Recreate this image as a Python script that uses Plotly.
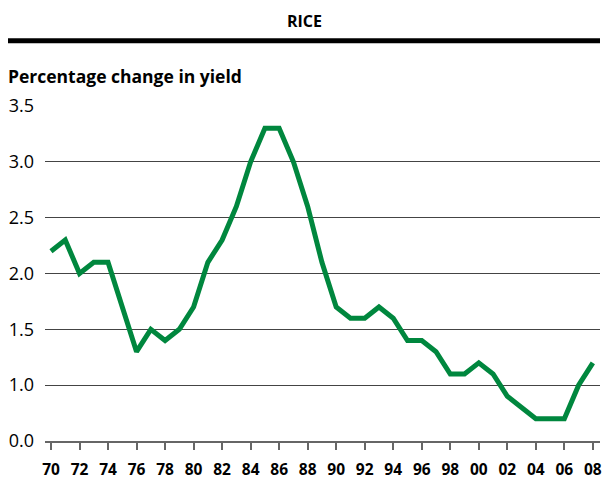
import plotly.graph_objects as go

years = list(range(1970, 2009))
yield_change = [2.2, 2.3, 2.0, 2.1, 2.1, 1.7, 1.3, 1.5, 1.4, 1.5,
                1.7, 2.1, 2.3, 2.6, 3.0, 3.3, 3.3, 3.0, 2.6, 2.1,
                1.7, 1.6, 1.6, 1.7, 1.6, 1.4, 1.4, 1.3, 1.1, 1.1,
                1.2, 1.1, 0.9, 0.8, 0.7, 0.7, 0.7, 1.0, 1.2]
x_tick_vals = list(range(1970, 2009, 2))
x_tick_text = ["70", "72", "74", "76", "78", "80", "82", "84", "86", "88",
               "90", "92", "94", "96", "98", "00", "02", "04", "06", "08"]
y_tick_vals = [0.5, 1.0, 1.5, 2.0, 2.5, 3.0, 3.5]
y_tick_text = ["0.0", "1.0", "1.5", "2.0", "2.5", "3.0", "3.5"]

L, R, T, B = 45, 4, 106, 40
W, H = 604, 481
pw, ph = W - L - R, H - T - B

def px(x):
    return (x - L) / pw

def py(y):
    return (H - B - y) / ph

fig = go.Figure()
fig.add_trace(go.Scatter(x=years, y=yield_change, mode="lines",
                         line=dict(color="#00873E", width=5),
                         hoverinfo="x+y"))

font_family = "Open Sans, Noto Sans, DejaVu Sans, sans-serif"

fig.update_layout(
    width=W, height=H,
    margin=dict(l=L, r=R, t=T, b=B, autoexpand=False),
    paper_bgcolor="white", plot_bgcolor="white",
    showlegend=False,
    font=dict(family=font_family, color="black"),
    xaxis=dict(range=[1969.58, 2008.5], tickvals=x_tick_vals, ticktext=x_tick_text,
               showgrid=False, zeroline=False, showline=True, linecolor="#666666",
               linewidth=1.5, ticks="outside", ticklen=7, tickwidth=1.5, tickcolor="#666666",
               ticklabelstandoff=7, automargin=False,
               tickfont=dict(size=15.5, family=font_family, weight="bold", color="black")),
    yaxis=dict(range=[0.5, 3.5], tickvals=y_tick_vals, ticktext=y_tick_text,
               showgrid=True, gridcolor="#444444", gridwidth=1, zeroline=False,
               showline=False, ticks="", ticklabelstandoff=10, automargin=False,
               tickfont=dict(size=18, family=font_family, color="black")),
    shapes=[dict(type="line", xref="paper", yref="paper",
                 x0=px(8), x1=px(600), y0=py(40.7), y1=py(40.7),
                 line=dict(color="black", width=5))],
    annotations=[
        dict(text="<b>RICE</b>", xref="paper", yref="paper", x=px(304.5), y=py(21),
             xanchor="center", yanchor="middle", showarrow=False,
             font=dict(size=16, family=font_family, color="black")),
        dict(text="<b>Percentage change in yield</b>", xref="paper", yref="paper",
             x=px(6), y=py(76), xanchor="left", yanchor="middle", showarrow=False,
             font=dict(size=17.5, family=font_family, color="black")),
    ],
)

fig.write_html("out.html", config={"displayModeBar": False},
               post_script="document.body.style.margin='0';")
